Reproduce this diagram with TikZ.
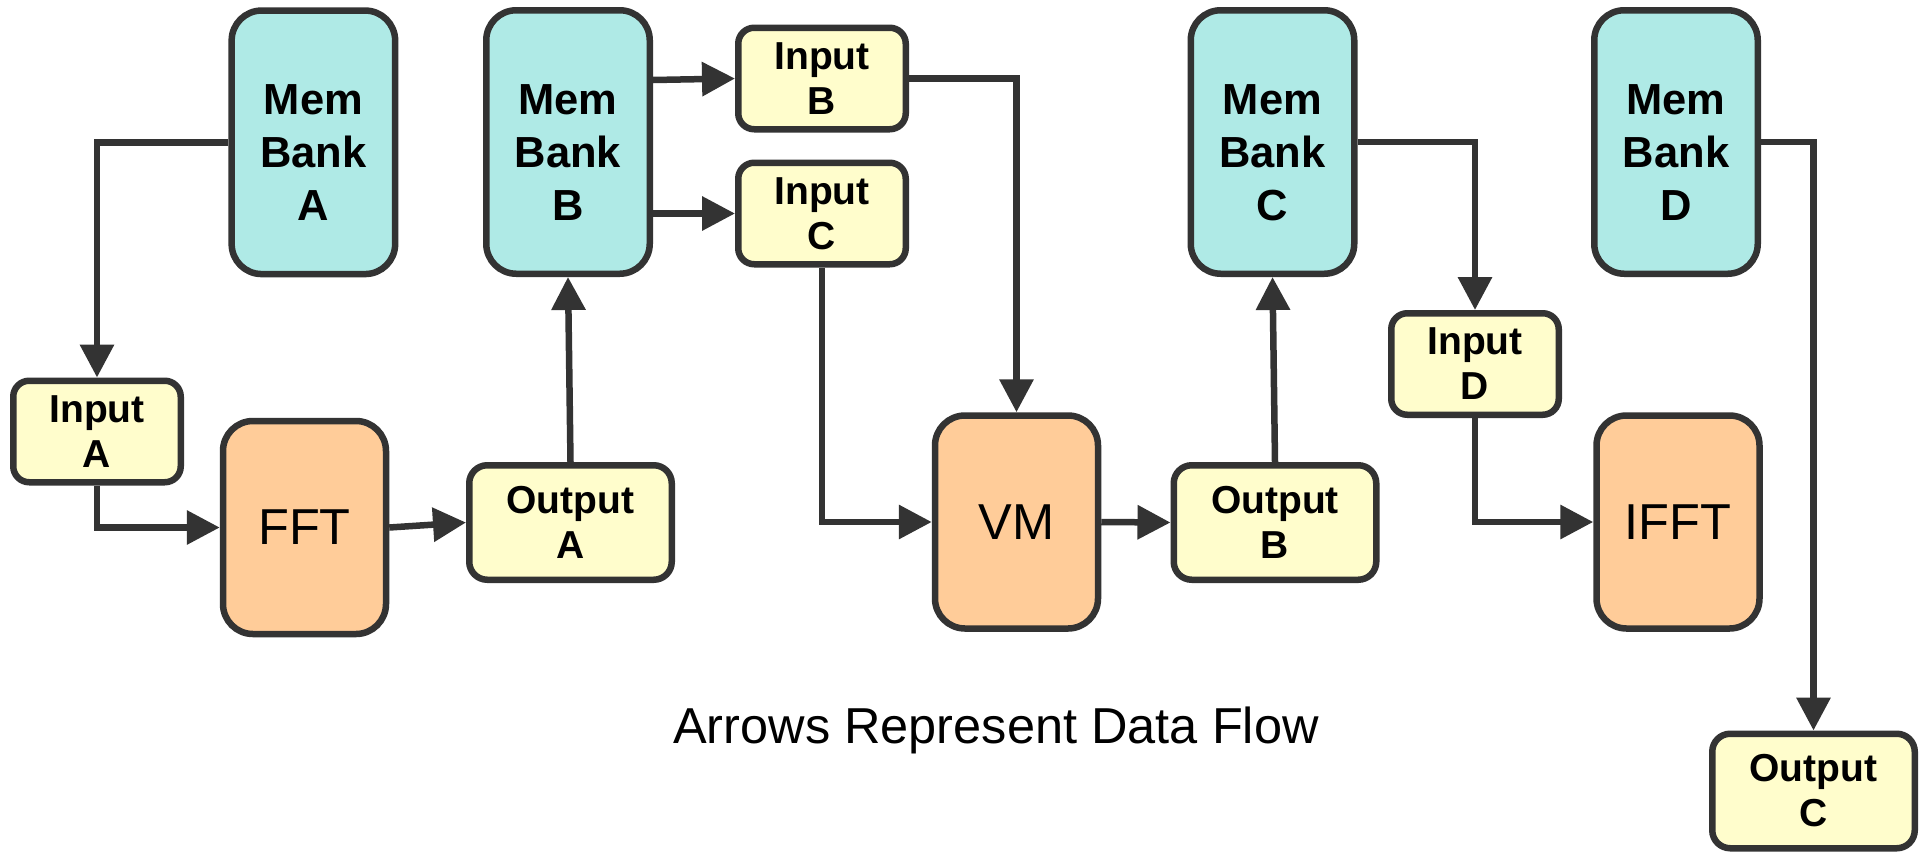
\documentclass[tikz,border=0pt]{standalone}
\usepackage{fontspec}
\setmainfont{Liberation Sans}
\usetikzlibrary{arrows.meta,calc}
\definecolor{membg}{RGB}{175,234,230}
\definecolor{iobg}{RGB}{255,253,204}
\definecolor{procbg}{RGB}{255,204,153}
\definecolor{edgecol}{RGB}{51,51,51}
\begin{document}
\begin{tikzpicture}[x=1pt,y=-1pt,
  box/.style={draw=edgecol, line width=6.5pt, align=center, inner sep=0pt},
  membox/.style={box, fill=membg, rounded corners=30pt, minimum width=163.5pt, minimum height=263.5pt, font=\fontsize{43.5}{53}\selectfont\bfseries},
  inbox/.style={box, fill=iobg, rounded corners=16pt, minimum width=167.5pt, minimum height=101.5pt, font=\fontsize{39}{45}\selectfont\bfseries},
  outbox/.style={box, fill=iobg, rounded corners=18pt, minimum width=202.5pt, minimum height=114.5pt, font=\fontsize{39}{45}\selectfont\bfseries},
  procbox/.style={box, fill=procbg, rounded corners=30pt, minimum width=163pt, minimum height=213pt, font=\fontsize{50.5}{55}\selectfont},
  flow/.style={draw=edgecol, line width=6.5pt, -{Triangle[length=33pt,width=33pt]}},
]
\useasboundingbox[fill=white] (0,0) rectangle (1923,852);

\node[membox] (memA) at (313.4,142.3) {\rule{0pt}{51pt}Mem\\Bank\\A};
\node[membox] (memB) at (568,142) {\rule{0pt}{51pt}Mem\\Bank\\B};
\node[membox] (memC) at (1272.5,142) {\rule{0pt}{51pt}Mem\\Bank\\C};
\node[membox] (memD) at (1676,142) {\rule{0pt}{51pt}Mem\\Bank\\D};

\node[inbox] (inA) at (97,431.5) {Input\\A};
\node[inbox] (inB) at (822,78.5) {Input\\B};
\node[inbox] (inC) at (822,213.5) {Input\\C};
\node[inbox] (inD) at (1475,364) {Input\\D};

\node[outbox] (outA) at (570.5,522.5) {Output\\A};
\node[outbox] (outB) at (1275,522.5) {Output\\B};
\node[outbox] (outC) at (1813.5,791) {Output\\C};

\node[procbox] (fft) at (304.5,527.5) {FFT};
\node[procbox] (vm) at (1016.5,522) {VM};
\node[procbox] (ifft) at (1678,522) {IFFT};

\node[anchor=base, font=\fontsize{50.5}{55}\selectfont] (cap) at (996,743) {Arrows Represent Data Flow};

\draw[flow] (memA.west) -| (inA.north);
\draw[flow] (inA.south) |- (fft.west);
\draw[flow] (fft.east) -- (outA.west);
\draw[flow] (outA.north) -- (memB.south);
\draw[flow] ([yshift=62pt]memB.east) -- (inB.west);
\draw[flow] (memB.east |- inC.west) -- (inC.west);
\draw[flow] (inB.east) -| (vm.north);
\draw[flow] (inC.south) |- (vm.west);
\draw[flow] (vm.east) -- (outB.west);
\draw[flow] (outB.north) -- (memC.south);
\draw[flow] (memC.east) -| (inD.north);
\draw[flow] (inD.south) |- (ifft.west);
\draw[flow] (memD.east) -| (outC.north);
\end{tikzpicture}
\end{document}
